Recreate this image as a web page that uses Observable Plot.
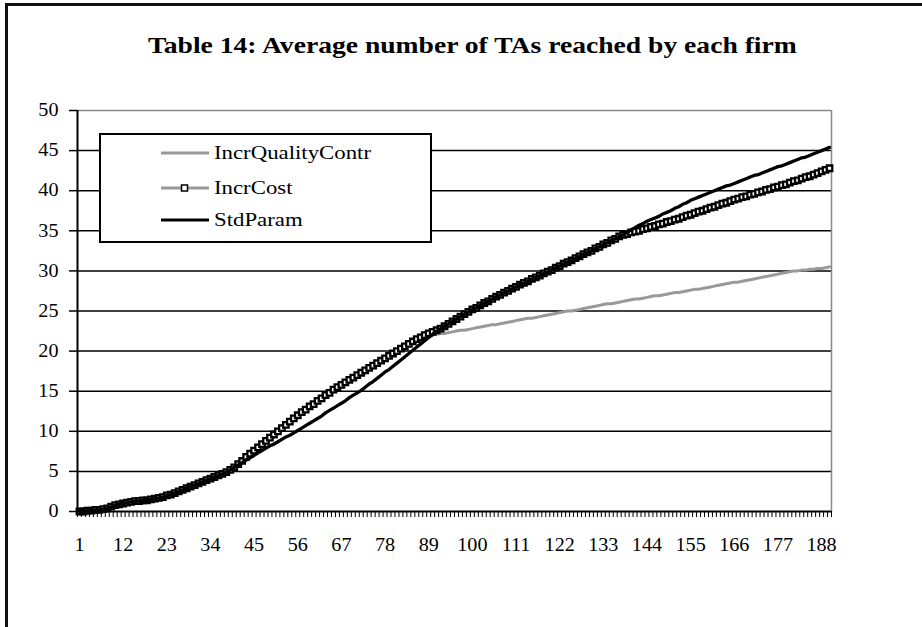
<!DOCTYPE html>
<html><head><meta charset="utf-8">
<script src="https://cdn.jsdelivr.net/npm/d3@7"></script>
<script src="https://cdn.jsdelivr.net/npm/@observablehq/plot@0.6"></script>
<style>
body{margin:0;background:#fff;width:922px;height:627px;overflow:hidden;position:relative;font-family:"Liberation Serif","Times New Roman",serif;color:#000;}
#frame{position:absolute;left:5px;top:3px;width:1000px;height:700px;border-left:3px solid #111;border-top:3px solid #111;}
#title{position:absolute;top:33px;left:0;width:944px;text-align:center;font-weight:bold;font-size:23px;}
#title span{display:inline-block;transform:scaleX(1.2);transform-origin:center;}
#chart{position:absolute;left:0;top:0;}
#legend{position:absolute;left:99px;top:133px;width:333px;height:110px;border:2px solid #000;background:#fff;box-sizing:border-box;}
.row{position:absolute;left:60px;height:24px;display:flex;align-items:center;font-size:19px;white-space:nowrap;}
.row svg{margin-right:5px;}
.row span{display:inline-block;transform:scaleX(1.2);transform-origin:left center;}
</style></head>
<body>
<div id="frame"></div>
<div id="chart"></div>
<div id="title"><span>Table 14: Average number of TAs reached by each firm</span></div>
<div id="legend"></div>
<script>
const categories = Array.from({length: 190}, (_, i) => i + 1);
const xTickLabels = [1, 12, 23, 34, 45, 56, 67, 78, 89, 100, 111, 122, 133, 144, 155, 166, 177, 188];
const yTicks = [0, 5, 10, 15, 20, 25, 30, 35, 40, 45, 50];
const seriesNames = ["IncrQualityContr", "IncrCost", "StdParam"];

const incrQualityContr = [
0.0,0.0,0.1,0.1,0.2,0.2,0.3,0.4,0.6,0.8, 0.9,1.0,1.1,1.2,1.3,1.3,1.4,1.4,1.5,1.6,
1.7,1.8,2.0,2.1,2.3,2.5,2.7,2.9,3.1,3.3, 3.5,3.7,3.9,4.1,4.3,4.5,4.7,4.9,5.2,5.5,
5.9,6.3,6.8,7.2,7.6,8.0,8.4,8.8,9.2,9.6, 10.0,10.4,10.8,11.2,11.6,12.0,12.4,12.7,13.1,13.4,
13.8,14.1,14.5,14.8,15.2,15.5,15.8,16.1,16.4,16.7, 17.0,17.3,17.6,17.9,18.2,18.5,18.8,19.1,19.4,19.7,
20.0,20.3,20.6,20.9,21.2,21.5,21.6,21.8,21.9,22.0,
22.1,22.2,22.2,22.3,22.4,22.5,22.6,22.6,22.7,22.8, 22.9,23.0,23.1,23.2,23.3,23.3,23.4,23.5,23.6,23.7,
23.8,23.9,24.0,24.1,24.1,24.2,24.3,24.4,24.5,24.6, 24.7,24.8,24.9,25.0,25.0,25.1,25.2,25.3,25.4,25.5,
25.6,25.7,25.8,25.9,25.9,26.0,26.1,26.2,26.3,26.4, 26.5,26.5,26.6,26.7,26.8,26.9,26.9,27.0,27.1,27.2,
27.3,27.3,27.4,27.5,27.6,27.7,27.7,27.8,27.9,28.0, 28.1,28.2,28.3,28.4,28.5,28.6,28.6,28.7,28.8,28.9,
29.0,29.1,29.2,29.3,29.4,29.5,29.6,29.7,29.8,29.9, 30.0,30.0,30.1,30.1,30.2,30.2,30.3,30.3,30.4,30.5
];
const incrCost = [
0.0,0.0,0.1,0.1,0.2,0.2,0.3,0.4,0.6,0.8, 0.9,1.0,1.1,1.2,1.3,1.3,1.4,1.4,1.5,1.6,
1.7,1.8,2.0,2.1,2.3,2.5,2.7,2.9,3.1,3.3, 3.5,3.7,3.9,4.1,4.3,4.5,4.7,4.9,5.2,5.5,
5.9,6.3,6.8,7.2,7.6,8.0,8.4,8.8,9.2,9.6, 10.0,10.4,10.8,11.2,11.6,12.0,12.4,12.7,13.1,13.4,
13.8,14.1,14.5,14.8,15.2,15.5,15.8,16.1,16.4,16.7, 17.0,17.3,17.6,17.9,18.2,18.5,18.8,19.1,19.4,19.7,
20.0,20.3,20.6,20.9,21.2,21.5,21.7,22.0,22.2,22.4, 22.6,
22.8,23.1,23.4,23.7,24.0,24.3,24.6,24.9,25.2,25.4, 25.7,26.0,26.2,26.5,26.8,27.0,27.3,27.5,27.8,28.0,
28.3,28.5,28.7,29.0,29.2,29.4,29.7,29.9,30.1,30.4, 30.6,30.9,31.1,31.3,31.6,31.8,32.1,32.3,32.5,32.8,
33.0,33.3,33.5,33.8,34.0,34.3,34.5,
34.6,34.8,34.9,35.0,35.2,35.3, 35.5,35.6,35.8,35.9,36.1,36.2, 36.4,36.5,36.7,36.9,37.0,37.2,
37.4,37.5,37.7,37.9,38.0,38.2, 38.4,38.5,38.7,38.9,39.0,39.2, 39.3,39.5,39.6,39.8,39.9,40.1,
40.2,40.4,40.5,40.7,40.8,41.0, 41.2,41.3,41.5,41.7,41.8,42.0, 42.2,42.4,42.6,42.8
];
const stdParam = [
0.0,0.0,0.1,0.1,0.2,0.2,0.3,0.4,0.6,0.8, 0.9,1.0,1.1,1.2,1.3,1.3,1.4,1.4,1.5,1.6,
1.7,1.8,2.0,2.1,2.3,2.5,2.7,2.9,3.1,3.3, 3.5,3.7,3.9,4.1,4.3,4.5,4.7,4.9,5.2,5.5,
5.8,6.1,6.4,6.7,7.0,7.3,7.6,7.9,8.2,8.4, 8.7,9.0,9.3,9.5,9.8,10.1,10.4,10.7,11.0,11.3,
11.6,11.9,12.3,12.6,12.9,13.2,13.5,13.8,14.2,14.5, 14.8,15.1,15.5,15.9,16.2,16.6,17.0,17.4,17.7,18.1,
18.5,18.9,19.3,19.7,20.1,20.5,20.9,21.3,21.7,22.1, 22.5,
22.8,23.1,23.4,23.7,24.0,24.3,24.6,24.9,25.2,25.4, 25.7,26.0,26.2,26.5,26.8,27.0,27.3,27.5,27.8,28.0,
28.3,28.5,28.7,29.0,29.2,29.4,29.7,29.9,30.1,30.4, 30.6,30.9,31.1,31.3,31.6,31.8,32.1,32.3,32.5,32.8,
33.0,33.3,33.5,33.8,34.0,34.3,34.5,
34.8,35.1,35.4,35.7,35.9,36.2, 36.4,36.6,36.8,37.1,37.3,37.5, 37.8,38.0,38.3,38.5,38.8,39.0,
39.2,39.4,39.6,39.8,40.0,40.2, 40.4,40.6,40.7,40.9,41.1,41.3, 41.5,41.7,41.9,42.0,42.2,42.4,
42.6,42.8,43.0,43.1,43.3,43.5, 43.7,43.9,44.1,44.2,44.4,44.6, 44.8,45.0,45.2,45.4
];

const rows = categories.map((c, i) => ({cat: c, q: incrQualityContr[i], c: incrCost[i], s: stdParam[i]}));
const boundaries = [0.5, ...categories.map(c => c + 0.5)];

const chart = Plot.plot({
  width: 922, height: 627,
  marginLeft: 77, marginRight: 91, marginTop: 110, marginBottom: 116,
  x: {domain: [0.5, 190.5]},
  y: {domain: [0, 50]},
  style: {fontFamily: "Liberation Serif", fontSize: "18px", color: "#000", background: "transparent"},
  marks: [
    Plot.ruleY(yTicks.filter(v => v > 0 && v < 50), {stroke: "#000", strokeWidth: 1.5}),
    Plot.ruleY([50], {stroke: "#888", strokeWidth: 1.5}),
    Plot.ruleX([190.5], {stroke: "#888", strokeWidth: 1.5}),
    Plot.line(rows, {x: "cat", y: "q", stroke: "#999", strokeWidth: 3}),
    Plot.line(rows, {x: "cat", y: "c", stroke: "#888", strokeWidth: 2}),
    Plot.dot(rows, {x: "cat", y: "c", symbol: "square", r: 3.1, stroke: "#000", strokeWidth: 2.3, fill: "#fff"}),
    Plot.line(rows, {x: "cat", y: "s", stroke: "#000", strokeWidth: 3.3}),
    Plot.axisY({ticks: yTicks, tickSize: 8, tickPadding: 11, label: null, strokeWidth: 1.5}),
    Plot.axisX({ticks: xTickLabels, tickSize: 0, tickPadding: 27, label: null}),
    Plot.axisX({ticks: boundaries, tickSize: 6, tickFormat: () => "", label: null}),
    Plot.ruleX([0.5], {stroke: "#000", strokeWidth: 2}),
    Plot.ruleY([0], {stroke: "#000", strokeWidth: 2})
  ]
});
document.getElementById("chart").appendChild(chart);
// widen tick labels horizontally like the reference's stretched serif text
function stretch(sel) {
  chart.querySelectorAll(sel).forEach(t => {
    const tr = t.getAttribute("transform");
    if (tr) {
      t.setAttribute("transform", tr + " scale(1.12,1)");
    } else {
      const x = +(t.getAttribute("x") || 0), y = +(t.getAttribute("y") || 0);
      t.setAttribute("transform", `translate(${x},${y}) scale(1.12,1) translate(${-x},${-y})`);
    }
  });
}
stretch('g[aria-label="y-axis tick label"] text');
stretch('g[aria-label="x-axis tick label"] text');

// legend
const legend = document.getElementById("legend");
const legendTops = [6, 41, 73];
seriesNames.forEach((name, i) => {
  const row = document.createElement("div");
  row.className = "row";
  row.style.top = legendTops[i] + "px";
  const ns = "http://www.w3.org/2000/svg";
  const svg = document.createElementNS(ns, "svg");
  svg.setAttribute("width", 48); svg.setAttribute("height", 12);
  const ln = document.createElementNS(ns, "line");
  ln.setAttribute("x1", 0); ln.setAttribute("x2", 48); ln.setAttribute("y1", 6); ln.setAttribute("y2", 6);
  ln.setAttribute("stroke", i === 2 ? "#000" : "#999");
  ln.setAttribute("stroke-width", 3);
  svg.appendChild(ln);
  if (i === 1) {
    const r = document.createElementNS(ns, "rect");
    r.setAttribute("x", 20.5); r.setAttribute("y", 3); r.setAttribute("width", 6); r.setAttribute("height", 6);
    r.setAttribute("fill", "#fff"); r.setAttribute("stroke", "#000"); r.setAttribute("stroke-width", 1.5);
    svg.appendChild(r);
  }
  row.appendChild(svg);
  const t = document.createElement("span");
  t.textContent = name;
  row.appendChild(t);
  legend.appendChild(row);
});
</script>
</body></html>
